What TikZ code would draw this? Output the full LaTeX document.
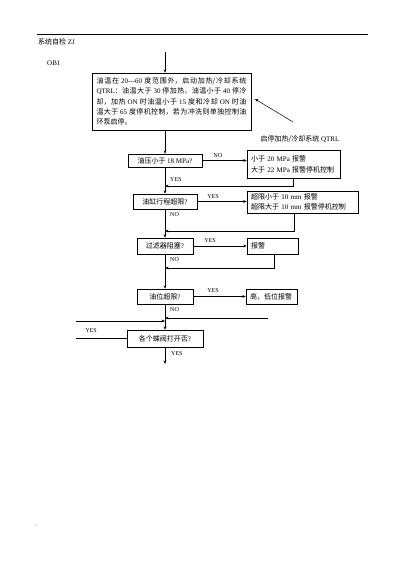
\documentclass[tikz,border=0pt]{standalone}
\usepackage{fontspec}
\setmainfont{Noto Sans CJK SC}
\newfontfamily\lat{Liberation Serif}
\usetikzlibrary{arrows.meta}
\XeTeXlinebreaklocale "zh"
\XeTeXlinebreakskip=0pt plus 1pt
\begin{document}
\begin{tikzpicture}[x=1pt,y=-1pt,
  ln/.style={line width=0.5pt},
  arr/.style={ln,-{Stealth[length=3.5pt,width=2.8pt]}},
  stepbox/.style={draw,line width=0.5pt,inner sep=0pt,font=\fontsize{7}{8}\selectfont,align=center},
  rbox/.style={draw,line width=0.5pt,inner xsep=4pt,inner ysep=0pt,font=\fontsize{7}{11}\selectfont,align=left},
  bigbox/.style={draw,line width=0.5pt,inner xsep=4.5pt,inner ysep=0pt,text width=150pt,minimum height=57pt,font=\fontsize{7}{10.3}\selectfont,align=justify},
  lbl/.style={font=\lat\fontsize{6}{6}\selectfont,inner sep=0pt},
  plain/.style={font=\fontsize{7}{8}\selectfont,inner sep=0pt}]
\useasboundingbox (0,0) rectangle (400,565);
% header
\draw[line width=0.6pt] (37,34) -- (368,34);
\node[plain,anchor=west] (title) at (38,42) {系统自检 {\lat ZJ}};
\node[plain,anchor=west] (ob) at (47,63) {\lat OB1};
% big box
\coordinate (st) at (165,52);
\node[bigbox] (big) at (171.5,101.5) {油温在 {\lat 20---60} 度范围外，启动加热/冷却系统\linebreak
{\lat QTRL}：油温大于 {\lat 30} 停加热，油温小于 {\lat 40} 停冷\linebreak
却，加热 {\lat ON} 时油温小于 {\lat 15} 度和冷却 {\lat ON} 时油\linebreak
温大于 {\lat 65} 度停机控制，若为冲洗则单独控制油\linebreak
环泵启停。};
\draw[arr] (st) -- (st |- big.north);
\node[plain] (ql) at (300,139) {启停加热/冷却系统 {\lat QTRL}};
\coordinate (qt) at (293,122);
\coordinate (qh) at (255,99);
\draw[arr] (qt) -- (qh);
% oil pressure
\node[stepbox,minimum width=74pt,minimum height=13pt] (p) at (165,160.5) {油压小于 {\lat 18 MPa?}};
\draw[arr] (p.north |- big.south) -- (p.north);
\node[rbox,minimum width=93pt,minimum height=28pt,text width=85pt] (r1) at (293.5,164) {小于 {\lat 20 MPa} 报警\\大于 {\lat 22 MPa} 报警停机控制};
\draw[arr] (p.east) -- (r1.west |- p.east);
\node[lbl] (no1) at (218,156) {NO};
% cylinder
\node[stepbox,minimum width=64pt,minimum height=15pt] (cyl) at (165,201.5) {油缸行程超限{\lat ?}};
\draw[arr] (p) -- (cyl);
\draw[arr] (r1.south) |- (p.south |- 0,186);
\node[lbl,anchor=west] (yes1) at (170,180) {YES};
\node[rbox,minimum width=111pt,minimum height=22pt,text width=103pt,font=\fontsize{7}{10}\selectfont] (r2) at (302.5,202) {超限小于 {\lat 10 mm} 报警\\超限大于 {\lat 10 mm} 报警停机控制};
\draw[arr] (cyl.east) -- (r2.west |- cyl.east);
\node[lbl] (yes2) at (213,197) {YES};
\node[lbl,anchor=west] (no2) at (170,215) {NO};
% filter
\node[stepbox,minimum width=56pt,minimum height=16pt] (filt) at (165,246) {过滤器阻塞{\lat ?}};
\draw[arr] (cyl) -- (filt);
\draw[arr] ([xshift=47pt]r2.south west) |- (cyl.south |- 0,231);
\node[rbox,minimum width=51pt,minimum height=16pt,text width=43pt] (r3) at (272.5,246) {报警};
\draw[arr] (filt.east) -- (r3.west |- filt.east);
\node[lbl] (yes3) at (210,241) {YES};
\node[lbl,anchor=west] (no3) at (170,260) {NO};
% oil level
\node[stepbox,minimum width=56pt,minimum height=15pt] (oil) at (165,296.5) {油位超限{\lat ?}};
\draw[arr] (filt) -- (oil);
\draw[arr] ([xshift=27pt]r3.south west) |- (filt.south |- 0,268);
\node[rbox,minimum width=51pt,minimum height=15pt,text width=43pt] (r4) at (271.5,296.5) {高，低位报警};
\draw[arr] (oil.east) -- (r4.west |- oil.east);
\node[lbl] (yes4) at (213,291) {YES};
\node[lbl,anchor=west] (no4) at (170,310) {NO};
% valves
\node[stepbox,minimum width=76pt,minimum height=17pt] (valve) at (165,338.5) {各个蝶阀打开否{\lat ?}};
\draw[arr] (oil) -- (valve);
\coordinate (inL) at (76,321);
\draw[arr] (inL) -- (inL -| oil.south);
\coordinate (inR) at (268,318);
\draw[arr] (inR) -- (inR -| oil.south);
\coordinate (inY) at (76,338);
\draw[ln] (inY) -- (inY -| valve.west);
\node[lbl] (yes5) at (91,331) {YES};
\coordinate (en) at (165,364);
\draw[arr] (valve) -- (en);
\node[lbl,anchor=west] (yes6) at (171,354) {YES};
\node[plain,font=\lat\fontsize{5}{5}\selectfont] (mk) at (36,526) {,};
\end{tikzpicture}
\end{document}
